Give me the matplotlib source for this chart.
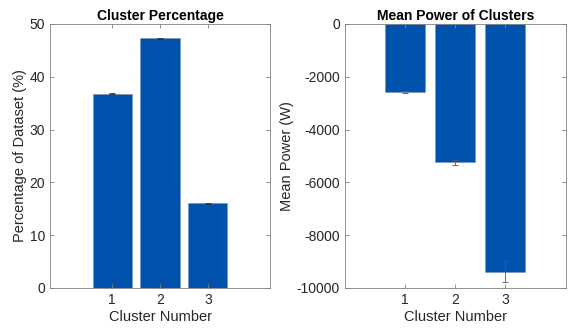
import matplotlib
matplotlib.use("Agg")
import matplotlib.pyplot as plt

clusters = [1, 2, 3]
pct_values = [36.8, 47.3, 16.0]
pct_err = [0.1, 0.1, 0.1]
power_values = [-2580, -5240, -9380]
power_err = [50, 100, 400]

plt.rcParams['font.family'] = ['Liberation Sans', 'DejaVu Sans']
plt.rcParams['axes.unicode_minus'] = False
bar_color = '#0152AC'
axis_color = '#262626'

fig = plt.figure(figsize=(5.69, 3.31), dpi=100)
ax1 = fig.add_axes([0.0879, 0.130, 0.3866, 0.7976])
ax2 = fig.add_axes([0.6063, 0.130, 0.388, 0.7976])

def style(ax):
    for s in ax.spines.values():
        s.set_color('#808080')
        s.set_linewidth(0.6)
    ax.tick_params(direction='in', length=3, width=0.6, color='#808080',
                   labelcolor=axis_color, labelsize=10, top=True, right=True)

ax1.bar(clusters, pct_values, width=0.82, color=bar_color, edgecolor='#7a8fb0', linewidth=0.4)
ax1.errorbar(clusters, pct_values, yerr=pct_err, fmt='none', ecolor='#333333',
             elinewidth=0.6, capsize=2, capthick=0.6)
ax1.set_xlim(-0.3, 4.3)
ax1.set_ylim(0, 50)
ax1.set_xticks(clusters)
ax1.set_yticks([0, 10, 20, 30, 40, 50])
ax1.set_title('Cluster Percentage', fontsize=10, fontweight='bold', pad=3)
ax1.set_xlabel('Cluster Number', fontsize=10.5, color=axis_color, labelpad=2)
ax1.set_ylabel('Percentage of Dataset (%)', fontsize=10.5, color=axis_color, labelpad=2)
style(ax1)

ax2.bar(clusters, power_values, width=0.8, color=bar_color, edgecolor='#7a8fb0', linewidth=0.4)
ax2.errorbar(clusters, power_values, yerr=power_err, fmt='none', ecolor='#555555',
             elinewidth=0.6, capsize=2, capthick=0.6)
ax2.set_xlim(-0.2, 4.22)
ax2.set_ylim(-10000, 0)
ax2.set_xticks(clusters)
ax2.set_yticks([-10000, -8000, -6000, -4000, -2000, 0])
ax2.set_title('Mean Power of Clusters', fontsize=10, fontweight='bold', pad=3)
ax2.set_xlabel('Cluster Number', fontsize=10.5, color=axis_color, labelpad=2)
ax2.set_ylabel('Mean Power (W)', fontsize=10.5, color=axis_color, labelpad=2)
style(ax2)

fig.savefig('out.png', dpi=100)
